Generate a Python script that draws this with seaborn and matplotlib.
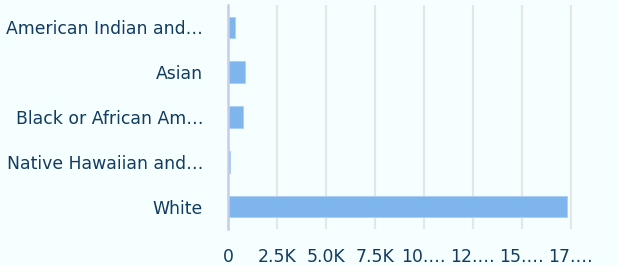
import pandas as pd
import matplotlib
matplotlib.use("Agg")
import matplotlib.pyplot as plt
import seaborn as sns

# data
categories = ["American Indian and…", "Asian", "Black or African Am…",
              "Native Hawaiian and…", "White"]
counts = [370, 870, 780, 100, 17300]
tick_values = [0, 2500, 5000, 7500, 10000, 12500, 15000, 17500]
tick_labels = ["0", "2.5K", "5.0K", "7.5K", "10.…", "12.…", "15.…", "17.…"]

BG = "#f5ffff"
BAR = "#7db5ec"
TEXT = "#123b61"

sns.set_theme(style="white")
plt.rcParams["font.family"] = ["DejaVu Sans"]

df = pd.DataFrame({"category": categories, "count": counts})

fig = plt.figure(figsize=(6.18, 2.66), dpi=100, facecolor=BG)
ax = fig.add_axes([228 / 618, 37 / 266, 344 / 618, 224 / 266])
ax.set_facecolor(BG)

sns.barplot(data=df, x="count", y="category", order=categories,
            color=BAR, saturation=1, width=0.48, edgecolor="#a9cff3",
            linewidth=0.6, ax=ax, zorder=3)

ax.set_xlim(0, 17560)
ax.set_ylim(4.5, -0.5)
ax.set_xticks(tick_values)
ax.set_xticklabels(tick_labels)
ax.grid(axis="x", color="#e6e6e6", linewidth=1.6, zorder=0)
ax.set_axisbelow(True)

for side in ["top", "right", "bottom"]:
    ax.spines[side].set_visible(False)
ax.spines["left"].set_color("#c7cde9")
ax.spines["left"].set_linewidth(1.8)
ax.spines["left"].set_zorder(4)

ax.tick_params(axis="x", length=0, pad=14, labelsize=12.4, labelcolor=TEXT)
ax.tick_params(axis="y", length=0, pad=18, labelsize=12.4, labelcolor=TEXT)
ax.set_xlabel("")
ax.set_ylabel("")

fig.savefig("out.png", dpi=100, facecolor=BG)
